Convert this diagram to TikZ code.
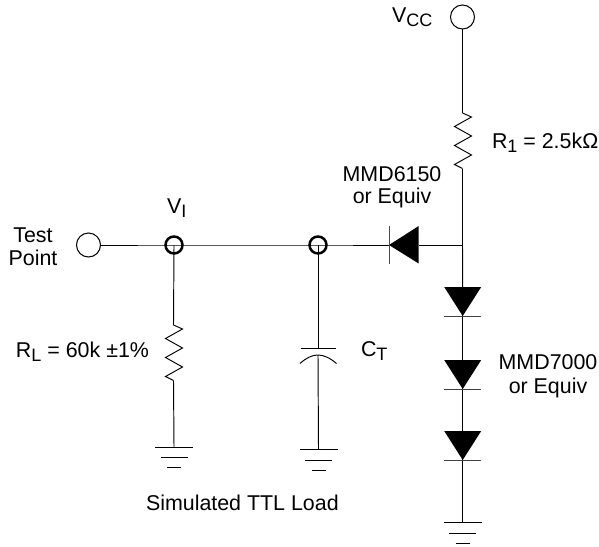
\documentclass[tikz,border=0pt]{standalone}
\usepackage{fontspec}
\setmainfont{Liberation Sans}
\newcommand{\lowsub}[1]{\raisebox{-0.22em}{\fontsize{18}{20}\selectfont #1}}
\tikzset{
  wire/.style={draw=black,line width=0.95pt,line join=miter},
  bigpin/.style={circle,draw=black,line width=1pt,minimum size=24pt,inner sep=0pt,outer sep=0pt},
  junct/.style={circle,draw=black,line width=2.5pt,minimum size=17pt,inner sep=0pt,outer sep=0pt},
  lab/.style={inner sep=0pt,outer sep=0pt,font=\fontsize{21.4}{25}\selectfont},
  zigv/.pic={\draw[wire] (0,0) -- (9,4) -- (-8,13.5) -- (9,23) -- (-8,32.5) -- (9,42) -- (-8,51.5) -- (0,55.5);},
  diodedown/.pic={\fill[black] (-18.5,0) -- (18.5,0) -- (0,29) -- cycle;
     \draw[wire,draw=black!75] (-18.5,29.5) -- (18.5,29.5);},
  gnd/.pic={\draw[wire] (-19,0) -- (19,0) (-13.5,10.5) -- (13.5,10.5) (-7,20.5) -- (7,20.5);}
}
\begin{document}
\begin{tikzpicture}[x=1pt,y=-1pt]
\useasboundingbox (0,0) rectangle (599,546);
% terminals
\node[bigpin] (tp) at (88.5,245) {};
\node[bigpin] (vcc) at (462.5,17) {};
\node[junct] (vi) at (174,245) {};
\node[junct] (ct) at (318,245) {};
\coordinate (jn) at (462.5,245);
% left resistor and ground
\coordinate (rltop) at (173.5,325);
\coordinate (rlbot) at (173.5,380.5);
\coordinate (g1) at (174,447);
\pic at (rltop) {zigv};
\draw[wire] (tp) -- (vi.center) -- (ct.center) -- (389,245);
\draw[wire] (vi.center) -- (rltop);
\draw[wire] (rlbot) -- (g1);
\pic at (g1) {gnd};
% capacitor and ground
\coordinate (capa) at (318,348.7);
\coordinate (capb) at (318,355);
\coordinate (g2) at (318.5,449.5);
\draw[wire] (ct.center) -- (capa);
\draw[wire] (300.5,348.7) -- (335.5,348.7);
\draw[wire] (300,363.5) .. controls (306,358) and (312,355) .. (capb) .. controls (324,355) and (330,358) .. (336.5,363.5);
\draw[wire] (capb) -- (g2);
\pic at (g2) {gnd};
% top resistor
\coordinate (r1top) at (462.5,113);
\coordinate (r1bot) at (462.5,168.5);
\pic at (r1top) {zigv};
\draw[wire] (vcc) -- (r1top);
\draw[wire] (r1bot) -- (jn);
% horizontal diode
\coordinate (dh) at (389,245);
\coordinate (dhb) at (418.7,245);
\fill[black] (dh) -- (418.7,226) -- (418.7,263.5) -- cycle;
\draw[wire,draw=black!70] (389,226) -- (389,263.5);
\draw[wire] (dhb) -- (jn);
% diode stack
\coordinate (d1) at (462.7,287);
\coordinate (d2) at (462.7,360);
\coordinate (d3) at (462.7,431);
\coordinate (g3) at (462.7,522.7);
\draw[wire] (jn) -- (d1);
\draw[wire] (d1) -- (d2);
\draw[wire] (d2) -- (d3);
\draw[wire] (d3) -- (g3);
\pic at (d1) {diodedown};
\pic at (d2) {diodedown};
\pic at (d3) {diodedown};
\pic at (g3) {gnd};
% labels
\node[lab,anchor=base] (ltest) at (33,242) {Test};
\node[lab,anchor=base] (lpoint) at (33,265) {Point};
\node[lab,anchor=base west] (lvi) at (167,213) {V\lowsub{I}};
\node[lab,anchor=base west] (lrl) at (16,357) {R\lowsub{L} = 60k ±1\%};
\node[lab,anchor=base west] (lct) at (361,356) {C\lowsub{T}};
\node[lab,anchor=base west] (lsim) at (146,510) {Simulated TTL Load};
\node[lab,anchor=base west] (lvcc) at (392,22) {V\lowsub{CC}};
\node[lab,anchor=base west] (lr1) at (492,148) {R\lowsub{1} = 2.5kΩ};
\node[lab,anchor=base] (lm6a) at (392,181) {MMD6150};
\node[lab,anchor=base] (lm6b) at (392,203) {or Equiv};
\node[lab,anchor=base] (lm7a) at (548,369) {MMD7000};
\node[lab,anchor=base] (lm7b) at (548,393) {or Equiv};
\end{tikzpicture}
\end{document}
